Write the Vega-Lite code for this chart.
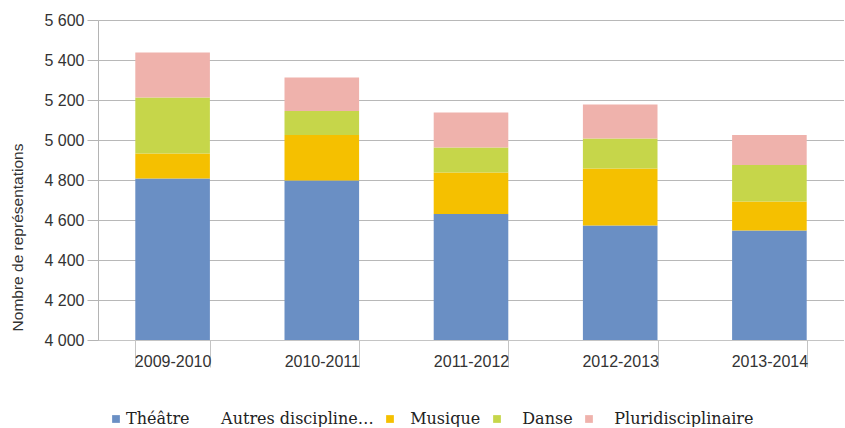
{
  "$schema": "https://vega.github.io/schema/vega-lite/v6.json",
  "width": 746,
  "height": 320,
  "padding": {"left": 10, "top": 12, "right": 0, "bottom": 0},
  "background": "white",
  "data": {"values": [
    {"saison": "2009-2010", "discipline": "Théâtre", "n": 4808},
    {"saison": "2009-2010", "discipline": "Musique", "n": 125},
    {"saison": "2009-2010", "discipline": "Danse", "n": 280},
    {"saison": "2009-2010", "discipline": "Pluridisciplinaire", "n": 224},
    {"saison": "2010-2011", "discipline": "Théâtre", "n": 4797},
    {"saison": "2010-2011", "discipline": "Musique", "n": 228},
    {"saison": "2010-2011", "discipline": "Danse", "n": 120},
    {"saison": "2010-2011", "discipline": "Pluridisciplinaire", "n": 167},
    {"saison": "2011-2012", "discipline": "Théâtre", "n": 4630},
    {"saison": "2011-2012", "discipline": "Musique", "n": 207},
    {"saison": "2011-2012", "discipline": "Danse", "n": 125},
    {"saison": "2011-2012", "discipline": "Pluridisciplinaire", "n": 176},
    {"saison": "2012-2013", "discipline": "Théâtre", "n": 4572},
    {"saison": "2012-2013", "discipline": "Musique", "n": 286},
    {"saison": "2012-2013", "discipline": "Danse", "n": 150},
    {"saison": "2012-2013", "discipline": "Pluridisciplinaire", "n": 170},
    {"saison": "2013-2014", "discipline": "Théâtre", "n": 4547},
    {"saison": "2013-2014", "discipline": "Musique", "n": 145},
    {"saison": "2013-2014", "discipline": "Danse", "n": 183},
    {"saison": "2013-2014", "discipline": "Pluridisciplinaire", "n": 150}
  ]},
  "transform": [
    {"calculate": "datum.discipline == 'Théâtre' ? 0 : datum.discipline == 'Musique' ? 1 : datum.discipline == 'Danse' ? 2 : 3", "as": "rang"}
  ],
  "mark": {"type": "bar", "clip": true},
  "encoding": {
    "x": {
      "field": "saison", "type": "nominal", "title": null,
      "scale": {"paddingInner": 0.5, "paddingOuter": 0.25},
      "axis": {
        "labelAngle": 0, "tickBand": "extent", "tickSize": 27, "tickColor": "#c4c4c4",
        "domainColor": "#c4c4c4", "labelFont": "Liberation Sans", "labelFontSize": 16,
        "labelColor": "#333333", "labelPadding": -14, "grid": false
      }
    },
    "y": {
      "field": "n", "type": "quantitative", "stack": "zero",
      "title": "Nombre de représentations",
      "scale": {"domain": [4000, 5600], "zero": false, "clamp": true, "nice": false},
      "axis": {
        "values": [4000, 4200, 4400, 4600, 4800, 5000, 5200, 5400, 5600],
        "labelExpr": "replace(format(datum.value, ','), ',', ' ')",
        "labelFont": "Liberation Sans", "labelFontSize": 16, "labelColor": "#333333",
        "titleFont": "Liberation Sans", "titleFontSize": 15.5, "titleFontWeight": "normal",
        "titleColor": "#333333", "titlePadding": 18, "titleY": 217,
        "tickSize": 11, "tickColor": "#b4b4b4", "domainColor": "#b4b4b4",
        "gridColor": "#b8b8b8", "labelPadding": 3
      }
    },
    "color": {
      "field": "discipline", "type": "nominal",
      "sort": ["Théâtre", "Autres disciplines :", "Musique", "Danse", "Pluridisciplinaire"],
      "scale": {
        "domain": ["Théâtre", "Autres disciplines :", "Musique", "Danse", "Pluridisciplinaire"],
        "range": ["#6a8fc4", "rgba(255,255,255,0)", "#f5c000", "#c6d64a", "#efb2ac"]
      },
      "legend": {
        "orient": "none", "legendX": 10, "legendY": 391, "direction": "horizontal", "title": null,
        "symbolType": "square", "symbolSize": 60, "symbolStrokeWidth": 0,
        "labelFont": "DejaVu Serif", "labelFontSize": 16, "labelColor": "#222222",
        "labelExpr": "datum.label == 'Théâtre' ? datum.label : datum.label == 'Autres disciplines :' ? '\u200b\u00a0' + datum.label : datum.label == 'Musique' ? '\u200b\u00a0\u00a0' + datum.label + '\u00a0' : datum.label == 'Danse' ? '\u200b\u00a0\u00a0\u00a0' + datum.label + '\u00a0' : '\u200b\u00a0\u00a0\u00a0' + datum.label",
        "columnPadding": 8, "labelOffset": 2
      }
    },
    "order": {"field": "rang", "type": "quantitative", "sort": "ascending"}
  },
  "config": {"view": {"stroke": null}}
}
